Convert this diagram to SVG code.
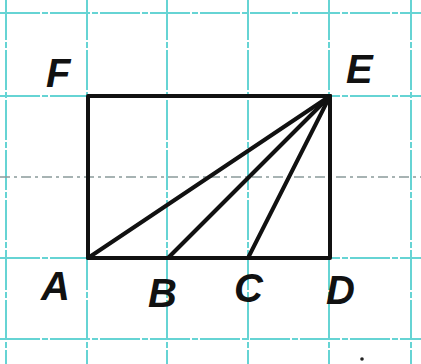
<svg xmlns="http://www.w3.org/2000/svg" width="421" height="364" viewBox="0 0 421 364">
<style>
.grid{stroke:#66d4d4;stroke-width:2;fill:none;stroke-dasharray:40 2 6 2}
.gridm{stroke:#8a9a9a;stroke-width:1.5;fill:none;stroke-dasharray:10 4 3 4}
.edge{stroke:#111;stroke-width:4;fill:none;stroke-linecap:round;stroke-linejoin:round}
.lbl{font-family:"Liberation Sans",Arial,sans-serif;font-weight:bold;font-style:italic;font-size:40px;fill:#111}
</style>
<rect width="421" height="364" fill="#fff"/>
<g id="grid">
<line class="grid" x1="6" y1="0" x2="6" y2="364"/>
<line class="grid" x1="87" y1="0" x2="87" y2="364"/>
<line class="grid" x1="167" y1="0" x2="167" y2="364"/>
<line class="grid" x1="248" y1="0" x2="248" y2="364"/>
<line class="grid" x1="329" y1="0" x2="329" y2="364"/>
<line class="grid" x1="411" y1="0" x2="411" y2="364"/>
<line class="grid" x1="0" y1="13" x2="421" y2="13"/>
<line class="grid" x1="0" y1="96" x2="421" y2="96"/>
<line class="gridm" x1="0" y1="177" x2="421" y2="177"/>
<line class="grid" x1="0" y1="258" x2="421" y2="258"/>
<line class="grid" x1="0" y1="339" x2="421" y2="339"/>
</g>
<g id="rect"><rect class="edge" x="88" y="96" width="242" height="162"/></g>
<g id="connectors">
<line class="edge" x1="330" y1="96" x2="88" y2="258"/>
<line class="edge" x1="330" y1="96" x2="168" y2="258"/>
<line class="edge" x1="330" y1="96" x2="248" y2="258"/>
</g>
<g id="F"><text class="lbl" x="46" y="87">F</text></g>
<g id="E"><text class="lbl" x="346" y="83">E</text></g>
<g id="A"><text class="lbl" x="41" y="300">A</text></g>
<g id="B"><text class="lbl" x="148" y="307">B</text></g>
<g id="C"><text class="lbl" x="234" y="302">C</text></g>
<g id="D"><text class="lbl" x="326" y="304">D</text></g>
<circle cx="362" cy="359" r="1.8" fill="#222"/>
</svg>
